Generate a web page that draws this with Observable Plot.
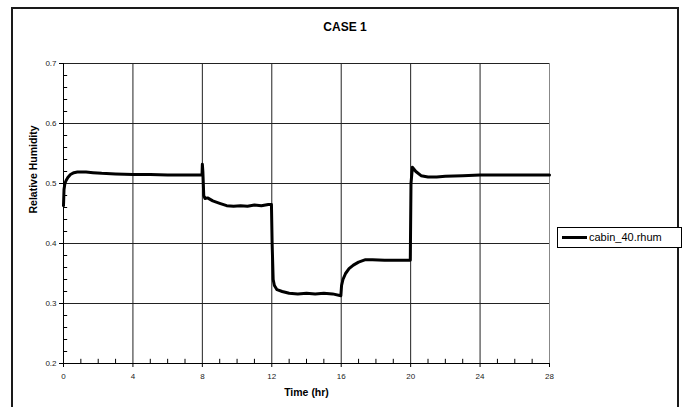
<!DOCTYPE html>
<html>
<head>
<meta charset="utf-8">
<script src="https://cdn.jsdelivr.net/npm/d3@7"></script>
<script src="https://cdn.jsdelivr.net/npm/@observablehq/plot@0.6"></script>
<style>
  html, body { margin: 0; padding: 0; background: #fff; overflow: hidden; }
  #wrap { position: relative; width: 684px; height: 407px; font-family: Arial, "Liberation Sans", sans-serif; }
  #frame { position: absolute; left: 11px; top: 7px; width: 668px; height: 420px; border: 2px solid #1a1a1a; box-sizing: border-box; }
  #title { position: absolute; left: 11px; width: 668px; top: 20px; text-align: center; font-weight: bold; font-size: 12px; color: #000; }
  #legend { position: absolute; left: 557px; top: 227px; width: 125px; height: 21px; border: 1px solid #000; box-sizing: border-box; background: #fff; }
  #legend .sw { position: absolute; left: 4px; top: 8px; width: 25px; height: 3px; background: #000; }
  #legend .lb { position: absolute; left: 31px; top: 3px; font-size: 11px; color: #000; white-space: nowrap; }
  #chart { position: absolute; left: 0; top: 0; }
</style>
</head>
<body>
<div id="wrap">
  <div id="frame"></div>
  <div id="chart"></div>
  <div id="title"></div>
  <div id="legend"><div class="sw"></div><div class="lb"></div></div>
</div>
<script>
const chartTitle = "CASE 1";
const xLabel = "Time (hr)";
const yLabel = "Relative Humidity";
const seriesName = "cabin_40.rhum";

const xTicks = [0, 4, 8, 12, 16, 20, 24, 28];
const yTicks = [0.2, 0.3, 0.4, 0.5, 0.6, 0.7];
const xMinor = [1, 2, 3, 5, 6, 7, 9, 10, 11, 13, 14, 15, 17, 18, 19, 21, 22, 23, 25, 26, 27];
const yMinor = [0.22, 0.24, 0.26, 0.28, 0.32, 0.34, 0.36, 0.38, 0.42, 0.44, 0.46, 0.48, 0.52, 0.54, 0.56, 0.58, 0.62, 0.64, 0.66, 0.68];

const timeHr = [0, 0.03, 0.08, 0.15, 0.25, 0.4, 0.6, 0.8, 1.0, 1.3, 1.7, 2.2, 3, 4, 5, 6, 7, 7.98,
  8.0, 8.03, 8.08, 8.15, 8.3, 8.6, 9.0, 9.4, 9.8, 10.2, 10.6, 11.0, 11.4, 11.8, 11.98,
  12.02, 12.08, 12.15, 12.3, 12.6, 13.0, 13.5, 14.0, 14.5, 15.0, 15.5, 15.98,
  16.02, 16.1, 16.25, 16.45, 16.7, 17.0, 17.4, 17.8, 18.5, 19.2, 19.98,
  20.02, 20.1, 20.3, 20.6, 21.0, 21.5, 22.0, 23, 24, 25, 26, 27, 28];
const rhum = [0.463, 0.49, 0.50, 0.505, 0.51, 0.515, 0.518, 0.519, 0.519, 0.519, 0.518, 0.517, 0.516, 0.515, 0.515, 0.514, 0.514, 0.514,
  0.532, 0.52, 0.48, 0.475, 0.476, 0.471, 0.467, 0.463, 0.462, 0.463, 0.462, 0.464, 0.463, 0.465, 0.465,
  0.40, 0.34, 0.33, 0.323, 0.32, 0.317, 0.316, 0.317, 0.316, 0.317, 0.316, 0.313,
  0.33, 0.34, 0.35, 0.358, 0.364, 0.369, 0.373, 0.373, 0.372, 0.372, 0.372,
  0.50, 0.527, 0.52, 0.513, 0.511, 0.511, 0.512, 0.513, 0.514, 0.514, 0.514, 0.514, 0.514];

const data = timeHr.map((t, i) => ({t, v: rhum[i]}));

const plot = Plot.plot({
  width: 684,
  height: 407,
  marginLeft: 63,
  marginRight: 135,
  marginTop: 63,
  marginBottom: 44,
  style: {fontFamily: "Arial, 'Liberation Sans', sans-serif", background: "transparent", color: "#000"},
  x: {domain: [0, 28]},
  y: {domain: [0.2, 0.7]},
  marks: [
    Plot.ruleY(yTicks.slice(1), {stroke: "#222", strokeWidth: 1}),
    Plot.ruleX(xTicks.slice(1, -1), {stroke: "#222", strokeWidth: 1}),
    Plot.ruleX([28], {stroke: "#888", strokeWidth: 1}),
    Plot.ruleY(yMinor, {x1: 0, x2: 0.24, stroke: "#000"}),
    Plot.ruleX(xMinor, {y1: 0.2, y2: 0.207, stroke: "#000"}),
    Plot.ruleX([0], {stroke: "#000", strokeWidth: 1}),
    Plot.ruleY([0.2], {stroke: "#000", strokeWidth: 1}),
    Plot.axisY({ticks: yTicks, tickFormat: d3.format(".1f"), tickSize: 4, tickPadding: 3, fontSize: 8, label: null, fill: "#222"}),
    Plot.axisX({ticks: xTicks, tickFormat: d3.format("d"), tickSize: 4, tickPadding: 6, fontSize: 8, label: null, fill: "#222"}),
    Plot.line(data, {x: "t", y: "v", stroke: "#000", strokeWidth: 3, strokeLinejoin: "round"}),
    Plot.text([yLabel], {frameAnchor: "left", dx: -30, rotate: -90, fontWeight: "bold", fontSize: 10.5, fill: "#000"}),
    Plot.text([xLabel], {frameAnchor: "bottom", dy: 32, fontWeight: "bold", fontSize: 10.5, fill: "#000"})
  ]
});
document.getElementById("chart").appendChild(plot);
document.getElementById("title").textContent = chartTitle;
document.querySelector("#legend .lb").textContent = seriesName;
</script>
</body>
</html>
